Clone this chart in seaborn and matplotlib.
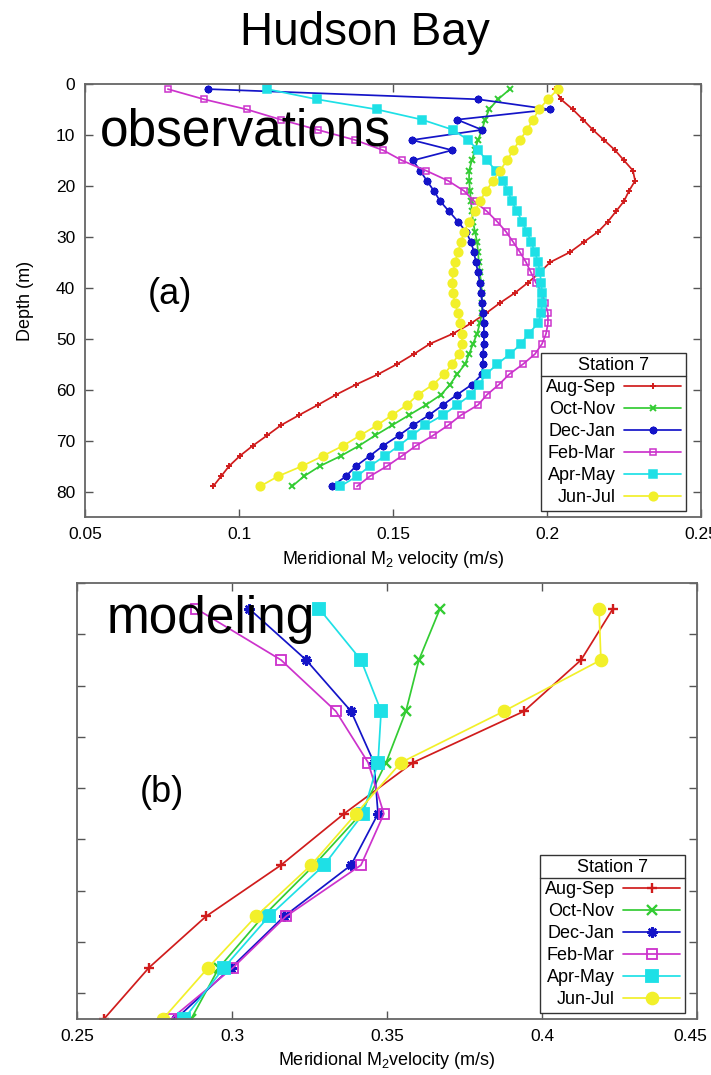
import matplotlib
matplotlib.use("Agg")
import matplotlib.pyplot as plt
import seaborn as sns
from matplotlib.lines import Line2D
from matplotlib.transforms import ScaledTranslation

# ---------------- data ----------------
seasons = ["Aug-Sep", "Oct-Nov", "Dec-Jan", "Feb-Mar", "Apr-May", "Jun-Jul"]

depth_obs = [1, 3, 5, 7, 9, 11, 13, 15, 17, 19, 21, 23, 25, 27, 29, 31, 33, 35, 37, 39,
             41, 43, 45, 47, 49, 51, 53, 55, 57, 59, 61, 63, 65, 67, 69, 71, 73, 75, 77, 79]

obs_aug_sep = [0.2026, 0.2045, 0.2084, 0.2117, 0.2149, 0.2185, 0.2221, 0.2250, 0.2279, 0.2286,
               0.2266, 0.2250, 0.2224, 0.2198, 0.2166, 0.2120, 0.2075, 0.2010, 0.1977, 0.1938,
               0.1896, 0.1847, 0.1802, 0.1753, 0.1695, 0.1620, 0.1568, 0.1513, 0.1451, 0.1380,
               0.1315, 0.1256, 0.1195, 0.1136, 0.1091, 0.1045, 0.1003, 0.0968, 0.0942, 0.0916]
obs_oct_nov = [0.1880, 0.1841, 0.1812, 0.1799, 0.1789, 0.1776, 0.1766, 0.1756, 0.1747, 0.1747,
               0.1750, 0.1753, 0.1756, 0.1760, 0.1766, 0.1773, 0.1776, 0.1779, 0.1782, 0.1786,
               0.1789, 0.1789, 0.1789, 0.1782, 0.1773, 0.1760, 0.1747, 0.1734, 0.1708, 0.1685,
               0.1656, 0.1607, 0.1552, 0.1497, 0.1442, 0.1390, 0.1331, 0.1263, 0.1211, 0.1172]
obs_dec_jan = [0.0899, 0.1776, 0.2010, 0.1708, 0.1789, 0.1562, 0.1692, 0.1565, 0.1588, 0.1610,
               0.1633, 0.1653, 0.1682, 0.1711, 0.1737, 0.1753, 0.1763, 0.1769, 0.1776, 0.1782,
               0.1786, 0.1789, 0.1792, 0.1795, 0.1795, 0.1795, 0.1792, 0.1792, 0.1789, 0.1756,
               0.1708, 0.1662, 0.1617, 0.1565, 0.1519, 0.1468, 0.1425, 0.1380, 0.1347, 0.1302]
obs_feb_mar = [0.0769, 0.0886, 0.1026, 0.1136, 0.1256, 0.1377, 0.1468, 0.1529, 0.1607, 0.1679,
               0.1731, 0.1763, 0.1805, 0.1838, 0.1867, 0.1890, 0.1912, 0.1932, 0.1948, 0.1964,
               0.1984, 0.1994, 0.2003, 0.2003, 0.1997, 0.1984, 0.1961, 0.1922, 0.1877, 0.1844,
               0.1805, 0.1776, 0.1721, 0.1679, 0.1630, 0.1575, 0.1529, 0.1481, 0.1425, 0.1383]
obs_apr_may = [0.1091, 0.1253, 0.1448, 0.1594, 0.1695, 0.1744, 0.1776, 0.1805, 0.1834, 0.1857,
               0.1873, 0.1886, 0.1903, 0.1919, 0.1935, 0.1948, 0.1961, 0.1971, 0.1977, 0.1981,
               0.1984, 0.1984, 0.1981, 0.1971, 0.1940, 0.1916, 0.1880, 0.1838, 0.1802, 0.1779,
               0.1753, 0.1708, 0.1662, 0.1604, 0.1562, 0.1519, 0.1474, 0.1425, 0.1383, 0.1328]
obs_jun_jul = [0.2036, 0.2003, 0.1974, 0.1955, 0.1935, 0.1912, 0.1890, 0.1870, 0.1847, 0.1825,
               0.1802, 0.1782, 0.1766, 0.1747, 0.1731, 0.1721, 0.1711, 0.1701, 0.1695, 0.1692,
               0.1695, 0.1701, 0.1711, 0.1718, 0.1724, 0.1724, 0.1714, 0.1692, 0.1666, 0.1630,
               0.1581, 0.1545, 0.1497, 0.1448, 0.1393, 0.1338, 0.1273, 0.1205, 0.1127, 0.1068]

depth_model = [5, 15, 25, 35, 45, 55, 65, 75, 85]
mod_aug_sep = [0.4229, 0.4126, 0.3942, 0.3584, 0.3361, 0.3158, 0.2916, 0.2732, 0.2587]
mod_oct_nov = [0.3671, 0.3603, 0.3561, 0.3497, 0.3416, 0.3265, 0.3100, 0.2958, 0.2868]
mod_dec_jan = [0.3055, 0.3239, 0.3384, 0.3458, 0.3471, 0.3384, 0.3168, 0.2997, 0.2819]
mod_feb_mar = [0.2884, 0.3158, 0.3335, 0.3439, 0.3490, 0.3416, 0.3174, 0.3003, 0.2803]
mod_apr_may = [0.3281, 0.3416, 0.3481, 0.3471, 0.3423, 0.3297, 0.3119, 0.2974, 0.2845]
mod_jun_jul = [0.4184, 0.4190, 0.3877, 0.3545, 0.3400, 0.3255, 0.3077, 0.2923, 0.2777]

obs_xticks = [0.05, 0.1, 0.15, 0.2, 0.25]
obs_xticklabels = ["0.05", "0.1", "0.15", "0.2", "0.25"]
mod_xticks = [0.25, 0.3, 0.35, 0.4, 0.45]
mod_xticklabels = ["0.25", "0.3", "0.35", "0.4", "0.45"]
depth_ticks = [0, 10, 20, 30, 40, 50, 60, 70, 80]
depth_ticklabels = ["0", "10", "20", "30", "40", "50", "60", "70", "80"]

obs_values = [obs_aug_sep, obs_oct_nov, obs_dec_jan, obs_feb_mar, obs_apr_may, obs_jun_jul]
mod_values = [mod_aug_sep, mod_oct_nov, mod_dec_jan, mod_feb_mar, mod_apr_may, mod_jun_jul]

# ---------------- style ----------------
sns.set_theme(style="white")
plt.rcParams["font.family"] = ["Liberation Sans", "DejaVu Sans"]
plt.rcParams["mathtext.fontset"] = "custom"
plt.rcParams["mathtext.rm"] = "Liberation Sans"
plt.rcParams["mathtext.it"] = "Liberation Sans:italic"
plt.rcParams["text.color"] = "black"
plt.rcParams["axes.labelcolor"] = "black"
plt.rcParams["xtick.color"] = "black"
plt.rcParams["ytick.color"] = "black"

colors = ["#d01c1c", "#33cc33", "#1414c8", "#cc33cc", "#1ee0e6", "#f2f02a"]
markers = ["+", "x", (8, 2, 0), "s", "s", "o"]
faces = [None, None, None, "none", "fill", "fill"]
size_obs = [5.0, 5.0, 5.5, 5.0, 5.8, 6.2]
size_mod = [7.5, 7.5, 7.5, 7.5, 8.0, 8.5]

W, H = 711, 1075
fig = plt.figure(figsize=(W / 100, H / 100), dpi=100)
fig.patch.set_facecolor("white")
ax1 = fig.add_axes([85 / W, 1 - 517 / H, 616 / W, 433 / H])
ax2 = fig.add_axes([77 / W, 1 - 1019 / H, 620 / W, 436 / H])


def draw(ax, depth, values, sizes, mew_scale):
    for name, vals, c, m, f, ms in zip(seasons, values, colors, markers, faces, sizes):
        kw = dict(marker=m, markersize=ms, markeredgecolor=c, markeredgewidth=1.1 * mew_scale)
        if f == "none":
            kw["markerfacecolor"] = "none"
        elif f == "fill":
            kw["markerfacecolor"] = c
        if m == "+" or m == "x" or isinstance(m, tuple):
            kw["markeredgewidth"] = 1.4 * mew_scale
        sns.lineplot(x=vals, y=depth, orient="y", sort=False, estimator=None, ax=ax,
                     color=c, linewidth=1.25, label=name, **kw)


draw(ax1, depth_obs, obs_values, size_obs, 1.0)
draw(ax2, depth_model, mod_values, size_mod, 1.2)


def style_axes(ax, xticks, xlabels, xlim, show_ylabels):
    ax.set_xlim(*xlim)
    ax.set_ylim(85, 0)
    ax.set_xticks(xticks)
    ax.set_xticklabels(xlabels)
    ax.set_yticks(depth_ticks)
    ax.set_yticklabels(depth_ticklabels)
    ax.tick_params(direction="in", length=6, width=1.0, color="#555555", labelcolor="black",
                   top=True, right=True, bottom=True, left=True, labelsize=12.5, pad=7)
    if not show_ylabels:
        ax.tick_params(labelleft=False)
    for s in ax.spines.values():
        s.set_color("#666666")
        s.set_linewidth(1.3)
    ax.set_facecolor("white")


style_axes(ax1, obs_xticks, obs_xticklabels, (0.05, 0.25), True)
style_axes(ax2, mod_xticks, mod_xticklabels, (0.25, 0.45), False)

ax1.set_ylabel("Depth (m)", fontsize=13)
ax1.yaxis.set_label_coords(-0.083, 0.5)
ax1.set_xlabel("Meridional M$_2$ velocity (m/s)", fontsize=13)
ax1.xaxis.set_label_coords(0.5, -0.075)
ax2.set_ylabel("")
ax2.set_xlabel("Meridional M$_2$velocity (m/s)", fontsize=13)
ax2.xaxis.set_label_coords(0.5, -0.072)

# keep the last bottom tick label inside the picture, as in the reference
last_lbl = ax2.get_xticklabels()[-1]
last_lbl.set_transform(last_lbl.get_transform() +
                       ScaledTranslation(-7 / 100, 0, fig.dpi_scale_trans))

legends = []
for ax, anchor in [(ax1, ((686 - 85) / 616, (517 - 511) / 433)),
                   (ax2, ((685 - 77) / 620, (1019 - 1013) / 436))]:
    leg = ax.legend(title="Station 7", loc="lower right", bbox_to_anchor=anchor,
                    markerfirst=False, frameon=True, fancybox=False, framealpha=1,
                    edgecolor="#333333", fontsize=13, title_fontsize=13,
                    handlelength=3.2, handletextpad=0.45, labelspacing=0.28,
                    borderpad=0.25, borderaxespad=0)
    leg.get_frame().set_linewidth(1.0)
    legends.append(leg)

fig.text(365 / W, 1 - 33 / H, "Hudson Bay", ha="center", va="center", fontsize=33)
fig.text(100 / W, 1 - 145 / H, "observations", ha="left", va="baseline", fontsize=37)
fig.text(107 / W, 1 - 633 / H, "modeling", ha="left", va="baseline", fontsize=37)
fig.text(148 / W, 1 - 295 / H, "(a)", ha="left", va="center", fontsize=26)
fig.text(140 / W, 1 - 793 / H, "(b)", ha="left", va="center", fontsize=26)

# separator line under legend titles
fig.canvas.draw()
renderer = fig.canvas.get_renderer()
inv = fig.transFigure.inverted()
for leg in legends:
    tb = leg._legend_title_box.get_window_extent(renderer)
    fb = leg.get_frame().get_window_extent(renderer)
    ysep = tb.y0 - 2
    (x0, y0) = inv.transform((fb.x0, ysep))
    (x1, _) = inv.transform((fb.x1, ysep))
    fig.add_artist(Line2D([x0, x1], [y0, y0], transform=fig.transFigure,
                          color="#333333", linewidth=1.0))

fig.savefig("out.png", dpi=100)
